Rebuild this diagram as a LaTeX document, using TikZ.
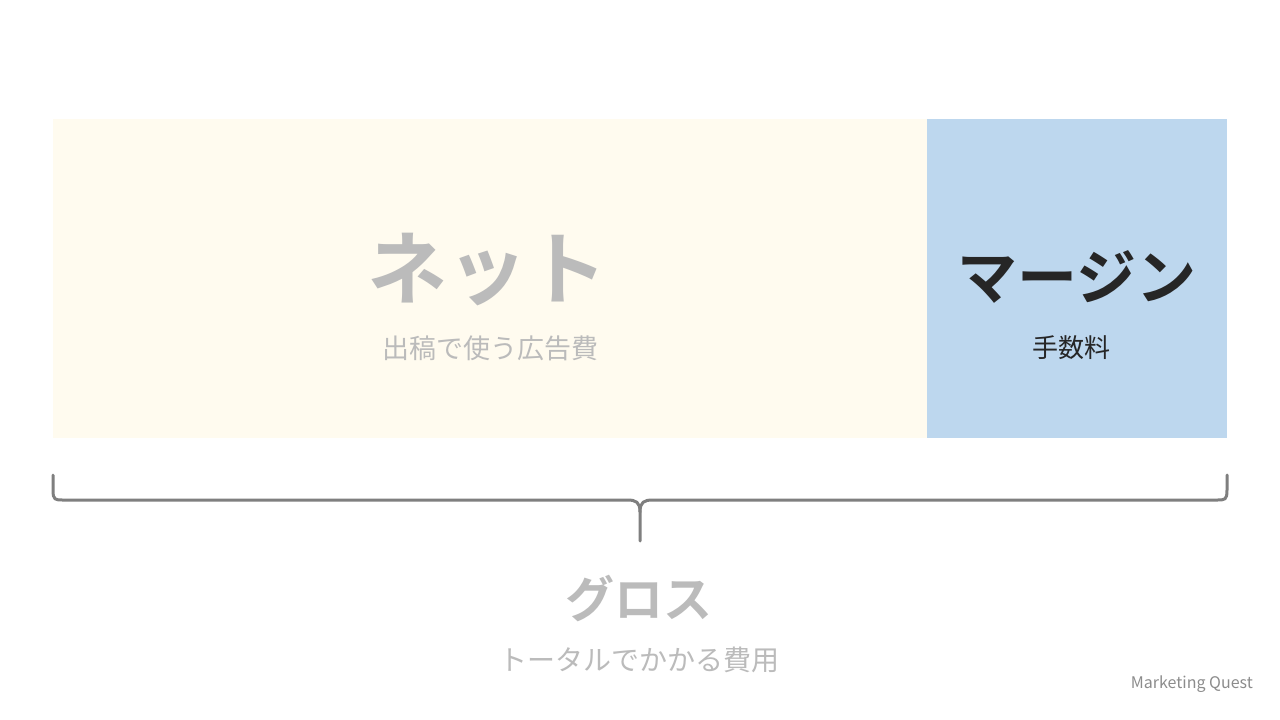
\documentclass[tikz,border=0pt]{standalone}
\usepackage{fontspec}
\newfontfamily\jp{Noto Sans CJK JP}
\newfontfamily\jpb{Noto Sans CJK JP Bold}
\setmainfont{Noto Sans CJK JP}
\definecolor{netbg}{HTML}{FFFBEF}
\definecolor{marbg}{HTML}{BDD7EE}
\definecolor{lightgray}{HTML}{BBBBBB}
\definecolor{darktxt}{HTML}{262626}
\definecolor{bracegray}{HTML}{7F7F7F}
\definecolor{credit}{HTML}{8C8C8C}
\tikzset{
  title/.style={inner sep=0pt, font=\jpb\fontsize{#1}{#1}\selectfont},
  sub/.style={inner sep=0pt, font=\jp\fontsize{#1}{#1}\selectfont},
  bracestyle/.style={draw=bracegray, line width=3pt, line cap=round, line join=round}
}
\begin{document}
\begin{tikzpicture}[x=1pt,y=-1pt]
\useasboundingbox (0,0) rectangle (1280,720);
\fill[white] (0,0) rectangle (1280,720);
\fill[netbg] (53,119) rectangle (927,438);
\fill[marbg] (927,119) rectangle (1227,438);
\node[title=80, text=lightgray] (net) at (487,270) {ネット};
\node[sub=27, text=lightgray] (netsub) at (490,348) {出稿で使う広告費};
\node[title=60, text=darktxt] (mar) at (1077,277) {マージン};
\node[sub=26, text=darktxt] (marsub) at (1071,348) {手数料};
\coordinate (bl) at (53,475);
\coordinate (br) at (1227,475);
\coordinate (bt) at (640,541);
\draw[bracestyle] (bl) -- (53,490) .. controls (53,500) and (55,500) .. (63,500) -- (627,500) .. controls (636,500) and (640,502) .. (640,512) -- (bt);
\draw[bracestyle] (br) -- (1227,490) .. controls (1227,500) and (1225,500) .. (1217,500) -- (653,500) .. controls (644,500) and (640,502) .. (640,512);
\node[title=49, text=lightgray] (gross) at (639,599) {グロス};
\node[sub=28, text=lightgray] (grosssub) at (639,660) {トータルでかかる費用};
\node[inner sep=0pt, anchor=east, font=\jp\fontsize{16}{16}\selectfont, text=credit] (credit) at (1253,684) {Marketing Quest};
\end{tikzpicture}
\end{document}
